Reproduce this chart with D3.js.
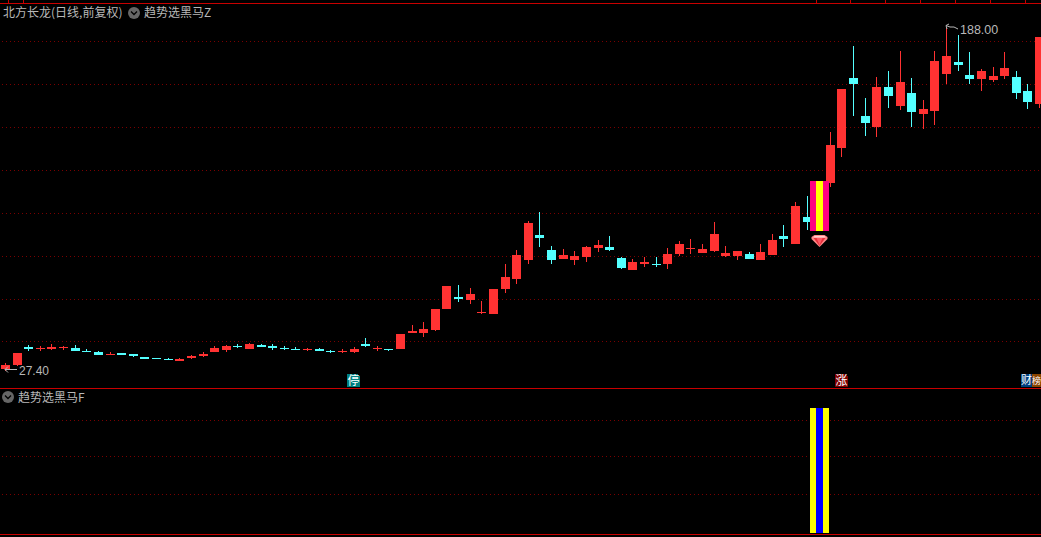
<!DOCTYPE html>
<html><head><meta charset="utf-8">
<script src="https://cdnjs.cloudflare.com/ajax/libs/d3/7.8.5/d3.min.js"></script>
<style>html,body{margin:0;padding:0;background:#000;overflow:hidden}svg{display:block}</style>
</head><body><svg id="c" width="1041" height="537"></svg>
<script>
const open=[28.3,30.1,38.6,37.6,37.6,38.1,38.1,36.7,36.2,34.8,35.8,35.3,33.9,33.4,33.0,32.0,33.4,34.4,36.2,37.2,39.0,37.6,39.5,39.0,38.1,37.6,37.2,37.6,36.7,36.2,36.2,40.0,37.6,37.6,37.6,45.1,45.1,46.5,56.3,61.9,60.5,54.4,54.0,65.6,70.3,79.2,90.9,83.9,79.7,79.2,80.6,84.8,85.3,80.1,74.5,77.3,77.3,77.3,82.0,84.3,82.5,83.4,81.1,81.1,82.0,79.2,81.5,90.4,86.7,99.3,92.7,115.1,131.5,164.2,146.4,141.3,160.0,151.1,157.2,147.4,148.8,166.0,171.7,165.6,163.7,163.2,165.1,164.6,158.1,152.0];
const close=[30.1,35.8,37.6,38.1,38.6,38.6,36.7,36.2,34.8,35.3,34.8,34.4,33.0,33.0,32.5,33.0,34.4,35.3,38.1,39.0,38.6,40.0,38.6,38.1,37.6,37.2,37.6,36.7,36.2,36.7,37.6,39.0,38.1,37.2,44.6,46.0,47.0,56.3,67.0,61.0,63.3,54.9,65.6,71.2,81.5,96.5,89.5,79.2,81.5,81.1,85.3,86.2,83.9,75.4,78.3,78.3,76.9,82.0,86.7,84.8,84.3,91.3,82.5,83.4,79.7,82.9,88.5,89.0,104.4,96.9,116.1,132.9,159.0,161.4,143.2,160.0,155.8,162.3,148.3,149.7,172.1,174.5,170.2,163.7,167.4,165.1,168.8,157.2,153.0,183.3];
const high=[31.1,35.8,39.5,39.0,40.0,39.0,39.5,37.6,36.7,36.2,35.8,35.3,33.9,33.4,33.4,33.4,34.8,36.2,39.0,39.5,40.0,40.4,40.0,40.0,39.0,38.6,38.1,38.1,37.2,37.6,38.6,42.8,39.0,37.6,44.6,48.8,50.2,56.3,67.0,67.5,66.1,60.0,65.6,77.3,83.9,97.4,101.6,85.7,84.3,83.4,85.7,88.5,90.4,80.6,79.7,80.6,80.6,84.8,88.1,89.0,86.7,96.9,85.7,83.4,82.9,86.7,91.3,95.5,106.3,109.1,116.1,139.0,159.0,179.1,154.8,164.6,167.4,176.8,164.2,153.9,176.8,188.0,184.3,176.3,168.4,169.3,176.3,167.4,161.4,183.3];
const low=[27.4,29.7,36.7,36.7,37.2,37.2,36.7,36.2,34.8,34.8,34.8,33.9,33.0,33.0,32.5,32.0,33.0,33.9,36.2,36.2,38.1,37.6,38.6,37.2,37.2,37.2,36.7,36.7,35.8,35.8,35.8,38.6,36.7,36.7,37.6,45.1,43.2,46.0,56.3,59.6,58.6,54.0,54.0,63.8,68.0,77.3,85.3,77.3,79.7,76.9,78.3,82.9,83.4,75.0,74.5,75.9,75.9,75.0,81.1,82.0,82.5,82.9,80.6,79.2,79.7,79.2,81.5,85.3,86.7,93.2,92.7,113.3,127.3,146.4,137.1,136.6,150.2,149.2,141.3,140.4,142.2,161.4,167.4,161.4,158.1,162.3,163.7,154.4,149.7,150.2];
const gridPrices=[181.2,161.1,141.1,121.0,100.9,80.8,60.7,41.1];
const lowerGrid=[0.31,0.61,0.9];
const signalIndex=[70];
const signalTop=[116.1], signalBottom=[92.7];
const lowerSignal=[1];
const topTicks=[8,23,816,850,885,920,955,990,1025];
const tags=[["停",347,"#007f7f",13,12,true],["涨",835,"#800000",13,12,true],["财",1021,"#003f7f",11,11,false],["榜",1032,"#8b4500",9,9,false]];
const titleMain="北方长龙(日线,前复权)", titleInd="趋势选黑马Z", titleLower="趋势选黑马F";
const lowLabel="27.40", highLabel="188.00";

const RED="#ff3232",CYAN="#54ffff",GRID="#7a0000",LINE="#c80000",TXT="#b8b8b8";
const W=1041,H=537;
const svg=d3.select("#c");
svg.append("rect").attr("width",W).attr("height",H).attr("fill","#000");
const x=d3.scaleLinear().domain([0,89]).range([5.5,1039.5]);
const y=d3.scaleLinear().domain([200.6,0]).range([0,429.55]);
const yL=d3.scaleLinear().domain([0,1]).range([533,408]);
const cr=svg.append("g").attr("shape-rendering","crispEdges");
[3,388,534].forEach(v=>cr.append("rect").attr("x",0).attr("y",v).attr("width",W).attr("height",1).attr("fill",LINE));
cr.selectAll(".tt").data(topTicks).join("rect").attr("x",d=>d).attr("y",0).attr("width",1).attr("height",3).attr("fill",LINE);
// dotted grid: one small dot every 4 px along each price level
const dotXs=d3.range(2,W,4);
const dotted=(g,vals,s)=>vals.forEach(v=>{
 g.selectAll(null).data(dotXs).join("rect").attr("x",d=>d).attr("y",Math.floor(s(v)))
  .attr("width",1).attr("height",1).attr("fill",GRID);
});
dotted(cr.append("g"),gridPrices,y);
dotted(cr.append("g"),lowerGrid,yL);
const idx=d3.range(open.length);
const col=i=>close[i]>=open[i]?RED:CYAN;
const ry=v=>Math.round(y(v));
const cx=i=>Math.floor(x(i));
cr.selectAll(".w").data(idx).join("rect").attr("x",cx).attr("width",1)
 .attr("y",i=>ry(high[i])).attr("height",i=>Math.max(1,ry(low[i])-ry(high[i]))).attr("fill",col);
cr.selectAll(".b").data(idx).join("rect").attr("x",i=>cx(i)-4).attr("width",9)
 .attr("y",i=>ry(Math.max(open[i],close[i])))
 .attr("height",i=>Math.max(1,ry(Math.min(open[i],close[i]))-ry(Math.max(open[i],close[i])))).attr("fill",col);
signalIndex.forEach((si,k)=>{
 const l=Math.round(x(si))-9;
 const t=ry(signalTop[k]),b=ry(signalBottom[k]);
 cr.append("rect").attr("x",l).attr("y",t).attr("width",19).attr("height",b-t).attr("fill","#ff0080");
 cr.append("rect").attr("x",l+6).attr("y",t).attr("width",7).attr("height",b-t).attr("fill","#ffff00");
 const t2=yL(lowerSignal[k]),b2=yL(0);
 cr.append("rect").attr("x",l).attr("y",t2).attr("width",19).attr("height",b2-t2).attr("fill","#ffff00");
 cr.append("rect").attr("x",l+6).attr("y",t2).attr("width",7).attr("height",b2-t2).attr("fill","#0000ff");
 const g=svg.append("g").attr("transform",`translate(${l+9.5},${b+4})`);
 g.append("path").attr("d","M-8,2 L-5,0 L5,0 L8,2 L8,4 L0,12 L-8,4Z").attr("fill","#ff8a8a");
 g.append("path").attr("d","M-6,3 L6,3 L0,11Z").attr("fill","#e8303c");
 g.append("path").attr("d","M-3,3 L3,3 L0,10Z").attr("fill","#ff5a66");
 g.append("path").attr("d","M-5,1 L5,1 L6,2.5 L-6,2.5Z").attr("fill","#ffd0d0");
});
const txt=(s,tx,ty,o={})=>svg.append("text").attr("x",tx).attr("y",ty).text(s)
 .attr("fill",o.fill||TXT).attr("font-size",o.size||12).attr("text-anchor",o.anchor||"start")
 .attr("font-family",o.font||"'Noto Sans CJK SC',sans-serif");
txt(titleMain,3,17);
txt(titleInd,144,17);
txt(titleLower,18,402);
const chevron=(cxv,cyv)=>{
 svg.append("circle").attr("cx",cxv).attr("cy",cyv).attr("r",6).attr("fill","#666");
 svg.append("path").attr("d",`M${cxv-3},${cyv-1.5} L${cxv},${cyv+1.5} L${cxv+3},${cyv-1.5}`).attr("fill","none").attr("stroke","#000").attr("stroke-width",1.3);
};
chevron(134,13); chevron(8,397);
const L=svg.append("g").attr("fill","none").attr("stroke",TXT).attr("stroke-width",1);
const lowY=ry(d3.min(low))-2;
L.append("path").attr("d",`M5,${lowY}.5 H17 M5,${lowY}.5 L8,${lowY-3}.5 M5,${lowY}.5 L8,${lowY+3}.5`);
txt(lowLabel,19,375,{font:"'Liberation Sans',sans-serif",size:12});
const hiX=cx(d3.range(high.length).find(i=>high[i]===d3.max(high)));
L.append("path").attr("d",`M${hiX},25.5 L${hiX+4},27 L${hiX+8},27 L${hiX+12},29 M${hiX},25.5 L${hiX+3},24 M${hiX},25.5 L${hiX+1},29`);
txt(highLabel,960,34,{font:"'Liberation Sans',sans-serif",size:12.5});
tags.forEach(([t,tx,c,w,fs,notch])=>{
 svg.append("rect").attr("x",tx).attr("y",374).attr("width",w).attr("height",13).attr("fill",c).attr("shape-rendering","crispEdges");
 if(notch) svg.append("rect").attr("x",tx+w-2).attr("y",374).attr("width",2).attr("height",2).attr("fill","#000").attr("shape-rendering","crispEdges");
 svg.append("text").attr("x",tx+w/2).attr("y",fs<12?384:385).attr("text-anchor","middle").attr("fill","#fff").attr("font-size",fs)
  .attr("font-family","'Noto Sans CJK SC',sans-serif").text(t);
});
</script></body></html>
